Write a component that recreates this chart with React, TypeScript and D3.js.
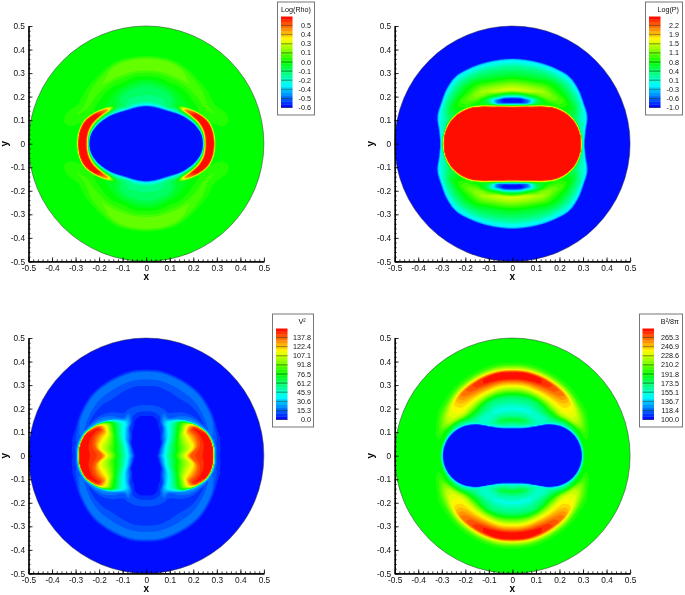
import { useEffect, useRef } from "react";
import * as d3 from "d3";

// every table has one row per angle (degrees from the +x axis), fields are mirrored into the other quadrants
const angles = [0, 10, 20, 30, 40, 50, 60, 70, 80, 90];
const axisTicks = [-0.5, -0.4, -0.3, -0.2, -0.1, 0, 0.1, 0.2, 0.3, 0.4, 0.5];
const minorTicks = d3.range(-25, 26).map((d) => d / 50);

const rhoLabels = ["-0.6", "-0.5", "-0.4", "-0.2", "-0.1", "0.0", "0.1", "0.3", "0.4", "0.5"];
const rhoRange = [-0.6, 0.65];
const rhoRadii = [
  [0, .241, .245, .25, .255, .287, .294, .31, .33, .35, .37, .39, .5],
  [0, .236, .241, .249, .255, .285, .292, .31, .33, .35, .37, .39, .5],
  [0, .222, .228, .24, .247, .275, .283, .30, .315, .33, .35, .38, .5],
  [0, .204, .212, .224, .232, .252, .26, .275, .29, .30, .32, .345, .5],
  [0, .188, .196, .208, .217, .228, .236, .26, .28, .305, .325, .35, .5],
  [0, .172, .18, .198, .204, .212, .22, .26, .285, .31, .33, .355, .5],
  [0, .162, .169, .18, .20, .22, .24, .265, .29, .315, .34, .365, .5],
  [0, .158, .165, .18, .20, .225, .245, .27, .295, .32, .35, .375, .5],
  [0, .157, .164, .18, .20, .23, .25, .28, .30, .32, .355, .375, .5],
  [0, .157, .164, .18, .20, .235, .255, .28, .30, .32, .355, .375, .5],
];
const rhoValues = [
  [-.6, -.6, -.2, .3, .65, .65, .025, .025, .025, .025, .025, .025, .025],
  [-.6, -.6, -.2, .3, .65, .65, .025, .025, .03, .03, .03, .025, .025],
  [-.6, -.6, -.2, .2, .65, .65, .05, .06, .08, .08, .06, .03, .025],
  [-.6, -.6, -.2, .1, .65, .62, .05, .06, .08, .1, .07, .03, .025],
  [-.6, -.6, -.2, 0, .5, .45, 0, .03, .07, .1, .08, .03, .025],
  [-.6, -.6, -.25, -.08, 0, -.02, -.02, .02, .06, .12, .1, .03, .025],
  [-.6, -.6, -.3, -.12, -.1, -.08, -.03, .02, .06, .14, .12, .03, .025],
  [-.6, -.6, -.3, -.14, -.12, -.1, -.05, .03, .08, .16, .16, .03, .025],
  [-.6, -.6, -.3, -.14, -.12, -.1, -.05, .03, .08, .16, .16, .03, .025],
  [-.6, -.6, -.3, -.14, -.12, -.1, -.05, .03, .08, .16, .16, .03, .025],
];

const pressureLabels = ["-1.0", "-0.6", "-0.3", "0.1", "0.4", "0.8", "1.1", "1.5", "1.9", "2.2"];
const pressureRange = [-1, 2.6];
const pressureRadii = [
  [0, .291, .294, .297, .298, .299, .300, .3005, .301, .302, .303, .304, .307, .5],
  [0, .288, .291, .295, .297, .299, .301, .303, .305, .307, .309, .312, .318, .5],
  [0, .277, .281, .287, .29, .293, .296, .30, .304, .312, .322, .335, .341, .5],
  [0, .258, .262, .268, .274, .28, .287, .295, .303, .317, .331, .345, .351, .5],
  [0, .233, .237, .243, .25, .26, .27, .28, .29, .31, .335, .36, .366, .5],
  [0, .204, .208, .214, .225, .235, .25, .265, .28, .31, .34, .37, .376, .5],
  [0, .18, .184, .19, .20, .215, .235, .255, .27, .305, .335, .365, .371, .5],
  [0, .166, .17, .176, .183, .197, .213, .235, .255, .29, .33, .36, .366, .5],
  [0, .158, .162, .168, .177, .192, .207, .228, .25, .285, .325, .357, .363, .5],
  [0, .155, .159, .165, .175, .19, .205, .228, .25, .285, .325, .357, .363, .5],
];
const pressureValues = [
  [2.6, 2.6, 1.2, .1, .1, .1, .1, .1, .1, .1, .1, -.1, -1, -1],
  [2.6, 2.6, 1.2, .1, .1, .1, .1, .1, .1, .1, .05, -.2, -1, -1],
  [2.6, 2.6, 1.3, .4, .3, .3, .3, .3, .2, .1, 0, -.2, -1, -1],
  [2.6, 2.6, 1.5, .7, .7, .7, .7, .7, .6, .4, .2, -.2, -1, -1],
  [2.6, 2.6, 1.6, .9, .9, 1.0, 1.0, 1.0, .9, .6, .3, -.2, -1, -1],
  [2.6, 2.6, 1.6, .8, .8, 1.0, 1.2, 1.2, 1.0, .7, .3, -.2, -1, -1],
  [2.6, 2.6, 1.6, .7, .5, .5, 1.2, 1.4, 1.2, .7, .3, -.2, -1, -1],
  [2.6, 2.6, 1.5, .2, -.6, -.6, .6, 1.5, 1.3, .7, .3, -.2, -1, -1],
  [2.6, 2.6, 1.5, .1, -1, -1, .3, 1.6, 1.3, .7, .3, -.2, -1, -1],
  [2.6, 2.6, 1.5, .1, -1, -1, .3, 1.6, 1.3, .7, .3, -.2, -1, -1],
];

const speedLabels = ["0.0", "15.3", "30.6", "45.9", "61.2", "76.5", "91.8", "107.1", "122.4", "137.8"];
const speedRange = [0, 153];
const speedRadii = [
  [0, .045, .065, .09, .12, .145, .165, .19, .27, .285, .29, .30, .31, .32, .33, .5],
  [0, .05, .07, .095, .13, .17, .20, .222, .265, .283, .289, .30, .31, .32, .33, .5],
  [0, .055, .075, .10, .135, .17, .195, .228, .255, .272, .278, .285, .295, .31, .325, .5],
  [0, .065, .085, .11, .145, .17, .19, .215, .235, .248, .254, .275, .295, .315, .332, .5],
  [0, .08, .10, .125, .155, .175, .19, .205, .215, .222, .228, .27, .305, .325, .342, .5],
  [0, .09, .115, .14, .16, .17, .178, .185, .19, .195, .205, .26, .315, .335, .352, .5],
  [0, .11, .135, .15, .155, .16, .165, .17, .175, .18, .19, .25, .32, .34, .357, .5],
  [0, .12, .15, .16, .165, .17, .18, .19, .20, .21, .22, .26, .325, .345, .362, .5],
  [0, .13, .155, .165, .17, .175, .185, .195, .205, .215, .23, .27, .33, .35, .368, .5],
  [0, .13, .155, .165, .17, .175, .185, .195, .205, .215, .23, .27, .33, .35, .368, .5],
];
const speedValues = [
  [3, 3, 25, 50, 72, 95, 110, 140, 153, 153, 30, 8, 5, 4, 3, 2],
  [3, 3, 25, 50, 75, 100, 115, 140, 153, 153, 30, 10, 8, 4, 3, 2],
  [3, 3, 25, 50, 75, 100, 115, 140, 153, 150, 35, 16, 18, 12, 3, 2],
  [3, 3, 25, 45, 70, 95, 115, 140, 150, 130, 30, 8, 16, 20, 3, 2],
  [3, 3, 20, 40, 60, 75, 85, 95, 90, 70, 25, 6, 16, 20, 3, 2],
  [3, 3, 20, 35, 45, 50, 50, 50, 45, 35, 18, 5, 16, 20, 3, 2],
  [3, 3, 8, 25, 30, 30, 30, 30, 25, 20, 12, 5, 16, 20, 3, 2],
  [3, 4, 5, 6, 8, 9, 11, 12, 12, 10, 8, 5, 16, 20, 3, 2],
  [3, 3, 3, 4, 5, 7, 9, 12, 12, 10, 7, 5, 16, 20, 3, 2],
  [3, 3, 3, 4, 5, 7, 9, 12, 12, 10, 7, 5, 16, 20, 3, 2],
];

const magneticLabels = ["100.0", "118.4", "136.7", "155.1", "173.5", "191.8", "210.2", "228.6", "246.9", "265.3"];
const magneticRange = [100, 283.7];
const magneticRadii = [
  [0, .293, .30, .305, .308, .31, .312, .315, .318, .32, .323, .326, .33, .34, .5],
  [0, .287, .295, .30, .302, .304, .306, .31, .313, .316, .319, .322, .33, .34, .5],
  [0, .271, .278, .284, .288, .29, .293, .298, .305, .31, .315, .322, .332, .35, .5],
  [0, .243, .25, .257, .262, .266, .27, .277, .287, .295, .302, .32, .335, .36, .5],
  [0, .205, .212, .22, .226, .232, .237, .25, .27, .29, .31, .33, .345, .365, .5],
  [0, .163, .169, .175, .183, .192, .207, .24, .27, .295, .32, .34, .355, .375, .5],
  [0, .137, .143, .15, .16, .175, .20, .245, .275, .30, .325, .345, .36, .38, .5],
  [0, .123, .129, .14, .155, .175, .20, .25, .28, .305, .33, .35, .365, .385, .5],
  [0, .117, .123, .135, .152, .172, .20, .25, .285, .31, .33, .355, .368, .39, .5],
  [0, .115, .121, .135, .152, .17, .20, .25, .285, .31, .33, .355, .368, .39, .5],
];
const magneticValues = [
  [100, 100, 160, 185, 190, 191.8, 191.8, 191.8, 191.8, 191.8, 191.8, 191.8, 191.8, 191.8, 191.8],
  [100, 100, 160, 185, 190, 191.8, 191.8, 191.8, 191.8, 191.8, 191.8, 191.8, 191.8, 191.8, 191.8],
  [100, 100, 155, 175, 180, 185, 190, 192, 195, 200, 205, 205, 200, 193, 191.8],
  [100, 100, 150, 165, 170, 175, 180, 192, 215, 225, 228, 228, 215, 195, 191.8],
  [100, 100, 150, 160, 165, 170, 175, 190, 225, 238, 240, 240, 222, 195, 191.8],
  [100, 100, 150, 155, 155, 155, 155, 185, 225, 245, 258, 262, 225, 195, 191.8],
  [100, 100, 150, 155, 165, 160, 155, 180, 225, 250, 270, 272, 228, 195, 191.8],
  [100, 100, 150, 165, 180, 165, 150, 175, 225, 255, 280, 278, 230, 195, 191.8],
  [100, 100, 150, 165, 185, 165, 150, 175, 225, 255, 283, 280, 230, 195, 191.8],
  [100, 100, 150, 165, 185, 165, 150, 175, 225, 255, 283, 280, 230, 195, 191.8],
];

const GRID = 200;
const BANDS = 31;
const rainbow = d3.scaleLinear<string>()
  .domain([0, 0.25, 0.5, 0.75, 1])
  .range(["#0000ff", "#00ffff", "#00ff00", "#ffff00", "#ff0000"]);

// catmull-rom through the rows so the outlines stay round between the table's angles
const spline = (a: number, b: number, c: number, d: number, t: number) =>
  0.5 * (2 * b + (c - a) * t + (2 * a - 5 * b + 4 * c - d) * t * t + (3 * b - a - 3 * c + d) * t * t * t);

// value at a point: blend the neighbouring rows (knots and values), then walk along the ray
function fieldAt(radii: number[][], values: number[][], x: number, y: number) {
  const r = Math.hypot(x, y);
  const deg = (Math.atan2(Math.abs(y), Math.abs(x)) * 180) / Math.PI;
  const last = angles.length - 1;
  const i = Math.min(d3.bisectRight(angles, deg) - 1, last - 1);
  const f = (deg - angles[i]) / (angles[i + 1] - angles[i]);
  const before = radii[i === 0 ? 1 : i - 1];
  const after = radii[i + 1 === last ? last - 1 : i + 2];
  const n = radii[i].length;
  let r0 = 0, v0 = values[i][0] * (1 - f) + values[i + 1][0] * f;
  for (let k = 1; k < n; k++) {
    const r1 = Math.max(spline(before[k], radii[i][k], radii[i + 1][k], after[k], f), r0 + 1e-5);
    const v1 = values[i][k] * (1 - f) + values[i + 1][k] * f;
    if (r <= r1) return v0 + ((v1 - v0) * (r - r0)) / (r1 - r0);
    r0 = r1;
    v0 = v1;
  }
  return v0;
}

const Panel = ({ x0, y0, radii, values, range, labels, title, box, barX, labelX, titleX, titleAnchor }: any) => {
  const ref = useRef<SVGGElement>(null);

  useEffect(() => {
    const size = 235.4;
    const g = d3.select(ref.current);
    g.selectAll("*").remove();

    const x = d3.scaleLinear().domain([-0.5, 0.5]).range([x0, x0 + size]);
    const y = d3.scaleLinear().domain([-0.5, 0.5]).range([y0 + size, y0]);
    const gx = d3.scaleLinear().domain([0, GRID]).range([-0.5, 0.5]);
    const gy = d3.scaleLinear().domain([0, GRID]).range([0.5, -0.5]);
    const color = (v: number) => rainbow((v - range[0]) / (range[1] - range[0]));

    const grid = new Float64Array(GRID * GRID);
    for (let j = 0; j < GRID; j++) {
      for (let i = 0; i < GRID; i++) {
        grid[j * GRID + i] = fieldAt(radii, values, gx(i + 0.5), gy(j + 0.5));
      }
    }
    const step = (range[1] - range[0]) / BANDS;
    const thresholds = d3.range(1, BANDS).map((i) => range[0] + i * step);
    const contours = d3.contours().size([GRID, GRID]).smooth(true).thresholds(thresholds)(grid as any);
    const path = d3.geoPath(d3.geoTransform({
      point(px: number, py: number) {
        this.stream.point(x(gx(px)), y(gy(py)));
      },
    }));

    const clipId = `clip-${x0}-${y0}`;
    g.append("clipPath").attr("id", clipId).append("circle")
      .attr("cx", x(0)).attr("cy", y(0)).attr("r", size / 2);
    const flood = g.append("g").attr("clip-path", `url(#${clipId})`).append("g").attr("filter", "url(#soft)");
    flood.append("rect").attr("x", x0).attr("y", y0).attr("width", size).attr("height", size)
      .attr("fill", color(range[0] + step / 2));
    flood.selectAll("path").data(contours).enter().append("path")
      .attr("d", (d: any) => path(d))
      .attr("fill", (d: any) => color(d.value + step / 2));
    g.append("circle").attr("cx", x(0)).attr("cy", y(0)).attr("r", size / 2)
      .attr("fill", "none").attr("stroke", "#333").attr("stroke-width", 0.5);

    const frame = g.append("g").attr("filter", "url(#softer)");
    const fmt = (d: any) => (d === 0 ? "0" : (+d).toFixed(1));
    const styleAxis = (a: any) => {
      a.selectAll("path").attr("stroke", "#000").attr("stroke-width", 1.2);
      a.selectAll("line").attr("stroke", "#000").attr("stroke-width", 0.8);
      a.selectAll("text").attr("font-family", "Liberation Sans").attr("font-size", 8.3).attr("fill", "#111");
    };
    const bottom = `translate(0,${y0 + size})`;
    const left = `translate(${x0},0)`;
    frame.append("g").attr("transform", bottom)
      .call(d3.axisBottom(x).tickValues(minorTicks).tickSize(-2).tickFormat(() => "").tickSizeOuter(0) as any)
      .call(styleAxis);
    frame.append("g").attr("transform", left)
      .call(d3.axisLeft(y).tickValues(minorTicks).tickSize(-2).tickFormat(() => "").tickSizeOuter(0) as any)
      .call(styleAxis);
    frame.append("g").attr("transform", bottom)
      .call(d3.axisBottom(x).tickValues(axisTicks).tickSize(-4).tickPadding(3.5).tickFormat(fmt).tickSizeOuter(0) as any)
      .call(styleAxis);
    frame.append("g").attr("transform", left)
      .call(d3.axisLeft(y).tickValues(axisTicks).tickSize(-4).tickPadding(3.5).tickFormat(fmt).tickSizeOuter(0) as any)
      .call(styleAxis);

    frame.append("text").attr("x", x(0)).attr("y", y0 + size + 19).attr("text-anchor", "middle")
      .attr("font-family", "Liberation Sans").attr("font-weight", "bold").attr("font-size", 10).text("x");
    frame.append("text").attr("transform", `translate(${x0 - 20.5},${y(0)}) rotate(-90)`).attr("text-anchor", "middle")
      .attr("font-family", "Liberation Sans").attr("font-weight", "bold").attr("font-size", 10).text("y");

    // legend
    const legend = frame.append("g").attr("font-family", "Liberation Sans").attr("fill", "#111");
    legend.append("rect").attr("x", box[0]).attr("y", box[1]).attr("width", box[2] - box[0]).attr("height", box[3] - box[1])
      .attr("fill", "#fff").attr("stroke", "#777").attr("stroke-width", 1);
    const barBottom = box[1] + 105.5;
    const barTop = box[1] + 14.5;
    const ly = d3.scaleLinear().domain(range).range([barBottom, barTop]);
    legend.selectAll(".band").data(d3.range(BANDS)).enter().append("rect")
      .attr("x", barX).attr("width", 11.5)
      .attr("y", (i: number) => ly(range[0] + (i + 1) * step))
      .attr("height", (barBottom - barTop) / BANDS + 0.3)
      .attr("fill", (i: number) => color(range[0] + (i + 0.5) * step));
    labels.forEach((label: string, i: number) => {
      const py = ly(range[0] + (i * (range[1] - range[0])) / 10);
      legend.append("line").attr("x1", barX).attr("x2", barX + 11.5).attr("y1", py).attr("y2", py)
        .attr("stroke", "#222").attr("stroke-width", 0.5);
      legend.append("text").attr("x", labelX).attr("y", py + 2.5).attr("text-anchor", "end")
        .attr("font-size", 7.2).text(label);
    });
    legend.append("text").attr("x", titleX).attr("y", box[1] + 9.5).attr("text-anchor", titleAnchor)
      .attr("font-size", 7.2).text(title);
  }, []);

  return <g ref={ref} />;
};

export default function App() {
  return (
    <svg width={685} height={595} style={{ position: "absolute", left: 0, top: 0, background: "#fff" }}>
      <defs>
        <filter id="soft" x="-5%" y="-5%" width="110%" height="110%">
          <feGaussianBlur stdDeviation="0.6" />
        </filter>
        <filter id="softer" x="-5%" y="-5%" width="110%" height="110%">
          <feGaussianBlur stdDeviation="0.3" />
        </filter>
      </defs>
      <Panel x0={28.5} y0={26} radii={rhoRadii} values={rhoValues} range={rhoRange} labels={rhoLabels}
        title="Log(Rho)" box={[277.5, 2, 314.5, 115]} barX={281} labelX={311} titleX={296} titleAnchor="middle" />
      <Panel x0={394.7} y0={26} radii={pressureRadii} values={pressureValues} range={pressureRange} labels={pressureLabels}
        title="Log(P)" box={[645.5, 2, 682.5, 115]} barX={649} labelX={679} titleX={679} titleAnchor="end" />
      <Panel x0={28.5} y0={338} radii={speedRadii} values={speedValues} range={speedRange} labels={speedLabels}
        title="V²" box={[272.5, 314, 313.5, 427]} barX={276} labelX={311} titleX={302} titleAnchor="middle" />
      <Panel x0={394.7} y0={338} radii={magneticRadii} values={magneticValues} range={magneticRange} labels={magneticLabels}
        title="B²/8π" box={[639.5, 314, 682.5, 427]} barX={642.5} labelX={679} titleX={679} titleAnchor="end" />
    </svg>
  );
}
